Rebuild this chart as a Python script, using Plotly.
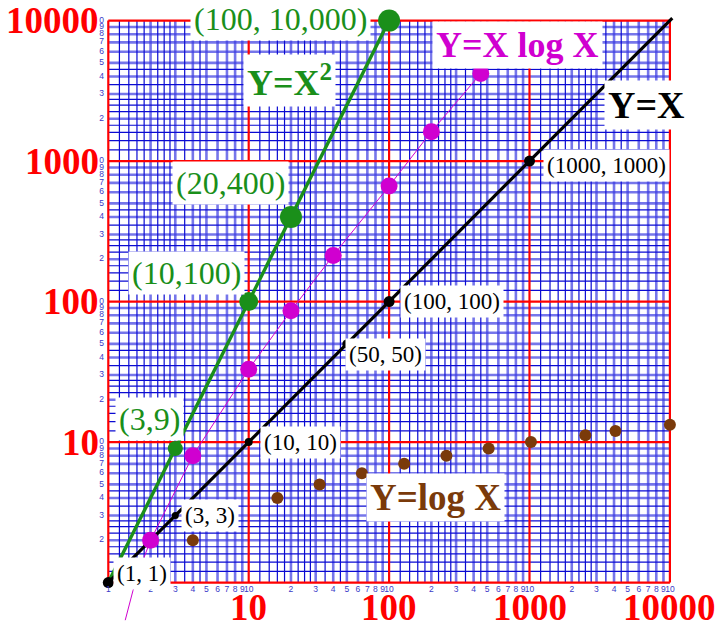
import numpy as np
import plotly.graph_objects as go

# ---------------- data ----------------
# Y = X^2
sq_x = [3, 10, 20, 100]
sq_y = [9, 100, 400, 10000]
sq_line_x = [1, 100]
sq_line_y = [1, 10000]
sq_labels = ["(3,9)", "(10,100)", "(20,400)", "(100, 10,000)"]

# Y = X
id_x = [1, 3, 10, 50, 100, 1000]
id_y = [1, 3, 10, 50, 100, 1000]
id_line_x = [1, 10400]
id_line_y = [1, 10400]
id_labels = ["(1, 1)", "(3, 3)", "(10, 10)", "(50, 50)", "(100, 100)", "(1000, 1000)"]

# Y = X log X
xl_x = [2, 4, 10, 20, 40, 100, 200, 450]
xl_y = [2, 8, 33, 86, 213, 664, 1620, 4200]
xl_tail_x = [1.32, 1.5, 1.75]
xl_tail_y = [0.54, 0.88, 1.41]

# Y = log X
lg_x = [4, 16, 32, 64, 128, 256, 512, 1024, 2500, 4096, 10000]
lg_y = [2, 4, 5, 6, 7, 8, 9, 10, 11.2, 12, 13.3]

# graph-paper rulings (mantissas within one decade)
decades = [1, 10, 100, 1000]
decade_lines = [1, 10, 100, 1000, 10000]
main_mant = [2, 3, 4, 5, 6, 7, 8, 9]
fine_mant = [1.2, 1.4, 1.6, 1.8, 2.25, 2.5, 2.75, 3.5, 4.5]
big_labels = ["10", "100", "1000", "10000"]
big_vals = [10, 100, 1000, 10000]

GREEN = "#1a8f1a"
MAGENTA = "#d000d0"
BROWN = "#7a3a0a"
RED = "#ff0000"
TICKBLUE = "#3a3ac8"
SERIF = "Liberation Serif, Times New Roman, serif"

LO, HI = 1, 10000

fig = go.Figure()


def ruling(vals, color, width):
    xs, ys = [], []
    for v in vals:
        xs += [v, v, None]
        ys += [LO, HI, None]
        xs += [LO, HI, None]
        ys += [v, v, None]
    fig.add_trace(go.Scatter(x=xs, y=ys, mode="lines", hoverinfo="skip",
                             line=dict(color=color, width=width), showlegend=False))


fine_vals = [d * m for d in decades for m in fine_mant]
main_vals = [d * m for d in decades for m in main_mant]
ruling(main_vals, "rgba(60,60,225,0.7)", 2.6)
ruling(fine_vals, "#0a0ad2", 1.2)
ruling(decade_lines, RED, 2.2)

# curves
fig.add_trace(go.Scatter(x=xl_tail_x + xl_x, y=xl_tail_y + xl_y, mode="lines",
                         line=dict(color=MAGENTA, width=1), showlegend=False))
fig.add_trace(go.Scatter(x=sq_line_x, y=sq_line_y, mode="lines",
                         line=dict(color=GREEN, width=3.4), showlegend=False))
fig.add_trace(go.Scatter(x=id_line_x, y=id_line_y, mode="lines",
                         line=dict(color="black", width=3.2), showlegend=False))


def dots(x, y, color, size):
    fig.add_trace(go.Scatter(x=x, y=y, mode="markers", cliponaxis=False,
                             marker=dict(color=color, size=size, opacity=1,
                                         line=dict(width=0)),
                             showlegend=False))


dots(lg_x, lg_y, BROWN, 12)
dots(xl_x, xl_y, MAGENTA, 17)
dots(sq_x, sq_y, GREEN, [15, 19, 22, 22])
dots(id_x, id_y, "black", [11, 7, 8, 9, 11, 11])

# small scale numbers along the bottom ruling
bx, bt = [1], ["1"]
for d in decades:
    for m in main_mant:
        bx.append(d * m)
        bt.append(str(m))
    bx.append(d * 10)
    bt.append("10")
fig.add_trace(go.Scatter(x=bx, y=[10 ** -0.053] * len(bx), mode="text", text=bt,
                         textfont=dict(family="Liberation Sans, Arial", size=8.5, color=TICKBLUE),
                         cliponaxis=False, hoverinfo="skip", showlegend=False))
# small scale numbers along the left ruling
ly, lt = [], []
for d in decades:
    for m in main_mant:
        ly.append(d * m)
        lt.append(str(m))
    ly.append(d * 10)
    lt.append("0")
fig.add_trace(go.Scatter(x=[10 ** -0.048] * len(ly), y=ly, mode="text", text=lt,
                         textfont=dict(family="Liberation Sans, Arial", size=8.5, color=TICKBLUE),
                         cliponaxis=False, hoverinfo="skip", showlegend=False))

ann = []


def point_label(x, y, text, color, size, dx, dy):
    ann.append(dict(x=np.log10(x), y=np.log10(y), xref="x", yref="y", text=text,
                    xanchor="center", yanchor="middle",
                    showarrow=False, xshift=dx, yshift=dy, bgcolor="white", borderpad=3,
                    font=dict(family=SERIF, size=size, color=color)))


id_shift = [(34, 9), (35, 0), (52, 0), (39, -11), (63, 0), (77, -4)]
for x, y, t, (dx, dy) in zip(id_x, id_y, id_labels, id_shift):
    point_label(x, y, t, "black", 23, dx, dy)

sq_shift = [(-26, 30), (-62, 29), (-60, 34), (-109, 2)]
for x, y, t, (dx, dy) in zip(sq_x, sq_y, sq_labels, sq_shift):
    point_label(x, y, t, GREEN, 32, dx, dy)


def title(px, py, text, color, size):
    ann.append(dict(x=px / 717, y=1 - py / 625, xref="paper", yref="paper", text="<b>" + text + "</b>",
                    xanchor="center", yanchor="middle",
                    showarrow=False, bgcolor="white", borderpad=3,
                    font=dict(family=SERIF, size=size, color=color)))


title(289, 80, "Y=X<sup>2</sup>", GREEN, 36)
title(517, 45, "Y=X log X", MAGENTA, 36)
title(646, 105, "Y=X", "black", 38)
title(435, 498, "Y=log X", BROWN, 37)

# big decade numbers
for v, t in zip(big_vals, big_labels):
    ann.append(dict(x=np.log10(v), y=1 - 607 / 625, xref="x", yref="paper", text="<b>" + t + "</b>",
                    xanchor="center", yanchor="middle",
                    showarrow=False, font=dict(family=SERIF, size=37, color=RED)))
    ann.append(dict(x=101 / 717, y=np.log10(v), xref="paper", yref="y", text="<b>" + t + "</b>",
                    xanchor="right", yanchor="middle",
                    showarrow=False, font=dict(family=SERIF, size=37, color=RED)))

fig.update_layout(
    width=717, height=625,
    margin=dict(l=0, r=0, t=0, b=0, pad=0),
    paper_bgcolor="white", plot_bgcolor="white",
    annotations=ann,
    xaxis=dict(type="log", range=[-0.7714, 4.3355], domain=[0, 1], visible=False, fixedrange=True),
    yaxis=dict(type="log", range=[-0.3018, 4.1466], domain=[0, 1], visible=False, fixedrange=True),
)

fig.write_html("out.html")
